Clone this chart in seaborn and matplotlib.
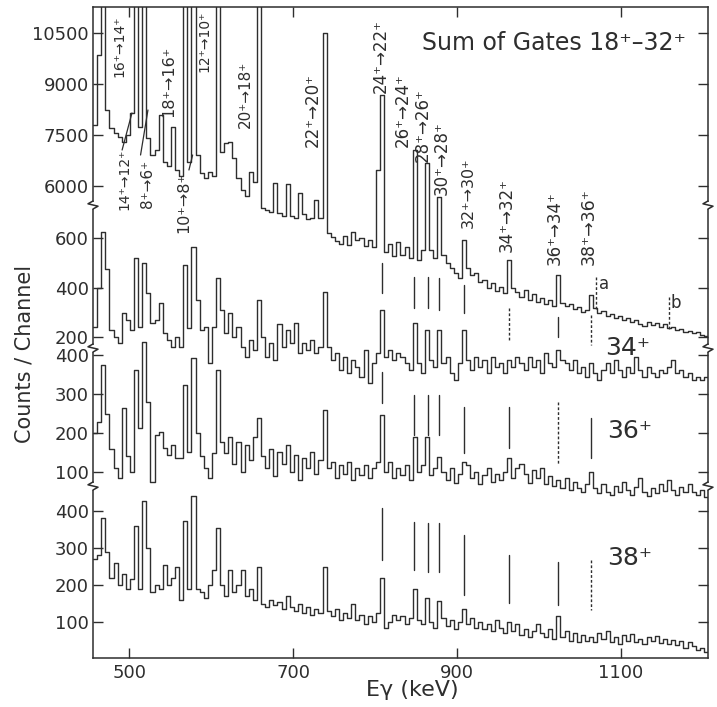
import numpy as np
import pandas as pd
import matplotlib
matplotlib.use("Agg")
import matplotlib.pyplot as plt
import matplotlib.transforms as mtransforms
from matplotlib.lines import Line2D
from matplotlib.patches import Rectangle
import seaborn as sns

sns.set_style("ticks")
plt.rcParams["font.family"] = ["DejaVu Sans"]

INK = "#2e2e2e"

# 5 keV channels over the displayed energy window
E_MIN, E_MAX, CH_W = 456, 1206, 5
edges = np.arange(E_MIN, E_MAX + CH_W, CH_W)
centers = edges[:-1] + CH_W / 2

# Sum of gates 18+ - 32+ (counts/channel); low-energy part lies above the axis break
sum_18_32 = [
    7790, 9850, 14000, 8230, 7700, 7560, 7440, 7290, 7500, 8150,
    14000, 7730, 14000, 7400, 6910, 7060, 8090, 6700, 6590, 7730,
    6470, 6300, 15000, 6700, 15000, 6910, 6380, 6240, 6410, 6300,
    14000, 7000, 7260, 7290, 6820, 6240, 5880, 5710, 6410, 6120,
    14000, 720, 715, 705, 6100, 700, 690, 6070, 690, 680,
    5800, 695, 675, 680, 5600, 680, 10500, 620, 604, 588,
    576, 608, 572, 624, 592, 600, 568, 592, 564, 6470,
    8680, 545, 576, 527, 584, 531, 564, 519, 7060, 511,
    552, 6680, 552, 519, 5680, 531, 499, 479, 459, 438,
    592, 479, 451, 459, 422, 430, 398, 418, 386, 402,
    378, 511, 398, 382, 362, 390, 350, 374, 341, 358,
    333, 350, 325, 450, 337, 325, 333, 313, 321, 301,
    309, 370, 317, 297, 305, 285, 293, 277, 285, 269,
    277, 261, 269, 253, 244, 261, 249, 257, 240, 253,
    236, 240, 228, 232, 220, 224, 216, 220, 208, 204,
]

gate_34 = [
    472, 572, 715, 620, 464, 446, 431, 508, 490, 464,
    649, 472, 636, 560, 482, 490, 533, 456, 438, 421,
    446, 421, 631, 470, 677, 540, 464, 472, 379, 472,
    597, 515, 456, 508, 446, 472, 421, 395, 438, 413,
    541, 446, 395, 431, 387, 480, 421, 464, 431, 482,
    405, 431, 413, 438, 405, 421, 562, 421, 387, 405,
    362, 395, 354, 387, 369, 344, 413, 328, 379, 405,
    515, 395, 413, 387, 405, 395, 379, 362, 482, 379,
    354, 464, 387, 369, 464, 379, 395, 354, 336, 379,
    464, 387, 362, 395, 369, 387, 354, 395, 369, 379,
    354, 387, 369, 395, 379, 362, 395, 369, 387, 354,
    405, 379, 369, 413, 387, 379, 362, 387, 354, 369,
    344, 379, 354, 336, 362, 379, 354, 387, 362, 344,
    369, 354, 395, 362, 344, 369, 354, 344, 362, 354,
    369, 387, 354, 362, 344, 354, 336, 344, 336, 344,
]

gate_36 = [
    200, 228, 374, 250, 160, 110, 85, 264, 140, 100,
    362, 213, 433, 279, 74, 195, 203, 162, 144, 169,
    136, 136, 323, 151, 392, 200, 140, 110, 85, 150,
    362, 177, 150, 190, 120, 177, 100, 169, 130, 190,
    238, 140, 110, 160, 90, 151, 120, 169, 100, 144,
    80, 136, 110, 151, 95, 130, 259, 110, 126, 85,
    118, 95, 126, 80, 110, 92, 118, 85, 110, 126,
    246, 100, 126, 85, 110, 92, 118, 80, 190, 100,
    118, 190, 92, 110, 138, 100, 80, 110, 72, 95,
    126, 118, 85, 100, 70, 92, 110, 75, 95, 80,
    100, 136, 85, 110, 120, 95, 72, 105, 85, 110,
    70, 90, 65, 80, 60, 85, 55, 75, 60, 50,
    70, 100, 60, 45, 70, 50, 40, 65, 48, 75,
    55, 40, 62, 85, 50, 38, 60, 45, 70, 52,
    80, 55, 40, 62, 48, 70, 50, 42, 55, 35,
]

gate_38 = [
    270, 280, 380, 290, 220, 260, 200, 230, 190, 215,
    360, 190, 428, 300, 180, 200, 190, 255, 200, 220,
    250, 160, 373, 190, 440, 190, 180, 165, 200, 240,
    354, 200, 170, 240, 180, 200, 240, 170, 190, 160,
    250, 150, 140, 160, 145, 155, 135, 170, 140, 130,
    150, 125, 140, 120, 135, 125, 250, 130, 115, 135,
    105, 125, 110, 150, 105, 120, 95, 115, 100, 125,
    220, 85, 100, 120, 105, 115, 95, 110, 190, 105,
    95, 165, 100, 85, 157, 110, 90, 105, 80, 100,
    135, 95, 110, 85, 100, 80, 95, 75, 105, 85,
    70, 100, 75, 95, 65, 80, 60, 75, 95, 70,
    60, 80, 55, 115, 60, 75, 50, 70, 45, 65,
    50, 60, 45, 70, 55, 75, 45, 60, 40, 65,
    50, 68, 45, 55, 40, 60, 48, 62, 42, 55,
    40, 52, 38, 50, 30, 45, 35, 25, 30, 20,
]

x_ticks = [500, 700, 900, 1100]
ticks_sum_hi = [6000, 7500, 9000, 10500]
ticks_sum_lo = [200, 400, 600]
ticks_34_36 = [100, 200, 300, 400]
ticks_38 = [100, 200, 300, 400]

# transition labels: text, energy (keV) of label centre, lower edge (px), size
transition_labels = [
    ("16⁺→14⁺", 488, 77, 10),
    ("14⁺→12⁺", 494, 210, 10),
    ("8⁺→6⁺", 523, 208, 11),
    ("18⁺→16⁺", 548, 117, 11.5),
    ("10⁺→8⁺", 567, 233, 11.5),
    ("12⁺→10⁺", 592, 72, 10),
    ("20⁺→18⁺", 642, 128, 11),
    ("22⁺→20⁺", 724, 147, 12),
    ("24⁺→22⁺", 807, 93, 12),
    ("26⁺→24⁺", 834, 147, 12),
    ("28⁺→26⁺", 858, 162, 12),
    ("30⁺→28⁺", 881, 195, 12),
    ("32⁺→30⁺", 914, 228, 11.5),
    ("34⁺→32⁺", 960, 252, 12),
    ("36⁺→34⁺", 1019, 265, 12),
    ("38⁺→36⁺", 1060, 265, 12.5),
]

# energies of the 24+->22+ ... 38+->36+ lines marked in each gate
gate_lines_keV = [808, 848, 864, 878, 908, 963, 1023, 1063]
marker_rows = [
    # (top px, bottom px, dotted?) for each line energy
    [(263, 293, 0), (277, 308, 0), (277, 308, 0), (278, 310, 0), (285, 313, 0),
     (308, 340, 1), (317, 337, 0), (315, 345, 1)],
    [(372, 403, 0), (395, 435, 0), (395, 435, 0), (395, 435, 0), (407, 453, 0),
     (407, 448, 0), (402, 465, 1), (418, 458, 0)],
    [(508, 560, 0), (522, 570, 0), (523, 572, 0), (523, 572, 0), (535, 595, 0),
     (555, 603, 0), (562, 605, 0), (560, 610, 1)],
]

# ---------------------------------------------------------------- layout
W, H = 717, 707
L, R, T, B = 93, 708, 7, 658
fig = plt.figure(figsize=(W / 100, H / 100), dpi=100)
fig.patch.set_facecolor("white")


def band(top, bot):
    return [L / W, 1 - bot / H, (R - L) / W, (bot - top) / H]


ax_frame = fig.add_axes(band(T, B))
ax_frame.set_facecolor("white")
for sp in ax_frame.spines.values():
    sp.set_visible(True)
    sp.set_color(INK)
    sp.set_linewidth(1.1)
ax_frame.set_xlim(E_MIN, E_MAX)
ax_frame.set_ylim(0, 1)
ax_frame.set_xticks(x_ticks)
ax_frame.set_yticks([])
ax_frame.tick_params(axis="x", which="both", direction="in", length=7, width=1.0,
                     top=True, bottom=True, labelsize=13, colors=INK, pad=4)


def layer(top, bot, p_a, v_a, p_b, v_b, ticks, spectra):
    ax = fig.add_axes(band(top, bot), sharex=ax_frame)
    ax.patch.set_visible(False)
    for counts in spectra:
        df = pd.DataFrame({"energy": centers, "counts": counts})
        sns.histplot(data=df, x="energy", weights="counts", bins=list(edges),
                     element="step", fill=False, color=INK, linewidth=1.0, ax=ax)
    k = (v_a - v_b) / (p_b - p_a)
    ax.set_ylim(v_a - (bot - p_a) * k, v_a + (p_a - top) * k)
    ax.set_xlim(E_MIN, E_MAX)
    for sp in ax.spines.values():
        sp.set_visible(False)
    ax.set_yticks(ticks)
    ax.set_ylabel("")
    ax.set_xlabel("")
    ax.yaxis.set_ticks_position("both")
    ax.tick_params(axis="y", direction="in", length=7, width=1.0, colors=INK,
                   labelsize=13, pad=3, labelleft=True, labelright=False)
    ax.tick_params(axis="x", bottom=False, top=False, labelbottom=False)
    return ax


ax_hi = layer(T, 205, 33, 10500, 186, 6000, ticks_sum_hi, [sum_18_32])
ax_lo = layer(205, B, 238, 600, 337, 200, ticks_sum_lo, [sum_18_32])
ax_mid = layer(T, B, 355, 400, 472, 100, ticks_34_36, [gate_34, gate_36])
ax_38 = layer(T, B, 511, 400, 622, 100, ticks_38, [gate_38])

ax_frame.set_xlim(E_MIN, E_MAX)

# labels and markers in (energy, frame fraction) coordinates
lab = mtransforms.blended_transform_factory(ax_frame.transData, ax_frame.transAxes)


def fy(py):
    return (B - py) / (B - T)


top_ax = ax_38
for text, e, ybot, size in transition_labels:
    top_ax.text(e, fy(ybot), text, rotation=90, ha="center", va="bottom",
                fontsize=size, color=INK, transform=lab, zorder=5)

# leader lines for the crowded low-spin labels
for (e1, y1), (e2, y2) in [((491.5, 150), (503.5, 113)),
                           ((514.0, 155), (523.0, 110)),
                           ((573.0, 170), (577.5, 155))]:
    top_ax.plot([e1, e2], [fy(y1), fy(y2)], color=INK, lw=0.9, transform=lab)

for row in marker_rows:
    for e, (y1, y2, dotted) in zip(gate_lines_keV, row):
        top_ax.plot([e, e], [fy(y1), fy(y2)], color=INK, lw=1.0, transform=lab,
                    linestyle=(0, (2.0, 1.5)) if dotted else "-")

# contaminant lines a and b in the summed spectrum
for e, y1, y2, name, tx, ty in [(1070, 277, 310, "a", 604, 284),
                                (1159, 297, 330, "b", 676, 303)]:
    top_ax.plot([e, e], [fy(y1), fy(y2)], color=INK, lw=1.0, transform=lab,
                linestyle=(0, (2.0, 1.5)))
    fig.text(tx / W, 1 - ty / H, name, fontsize=12, color=INK, ha="center", va="center")

fig.text(554 / W, 1 - 43 / H, "Sum of Gates 18⁺–32⁺", fontsize=17, color=INK,
         ha="center", va="center")
for name, (tx, ty) in [("34⁺", (628, 348)), ("36⁺", (630, 431)), ("38⁺", (630, 558))]:
    fig.text(tx / W, 1 - ty / H, name, fontsize=18, color=INK, ha="center", va="center")

fig.text(412 / W, 1 - 690 / H, "Eγ (keV)", fontsize=16, color=INK, ha="center", va="center")
fig.text(25 / W, 1 - 354 / H, "Counts / Channel", fontsize=15, color=INK,
         ha="center", va="center", rotation=90)

# axis-break symbols on both vertical spines
for ypx in (205, 348, 486):
    yf = fy(ypx)
    for xf in (0.0, 1.0):
        tr = fig.dpi_scale_trans + mtransforms.ScaledTranslation(xf, yf, ax_frame.transAxes)
        fig.add_artist(Rectangle((-0.025, -0.035), 0.05, 0.07, transform=tr,
                                 facecolor="white", edgecolor="none", zorder=20))
        fig.add_artist(Line2D([0, -0.05, 0.05, 0], [0.04, 0.012, -0.012, -0.04],
                              transform=tr, color=INK, lw=1.1, zorder=21))

fig.savefig("out.png", dpi=100, facecolor="white")
